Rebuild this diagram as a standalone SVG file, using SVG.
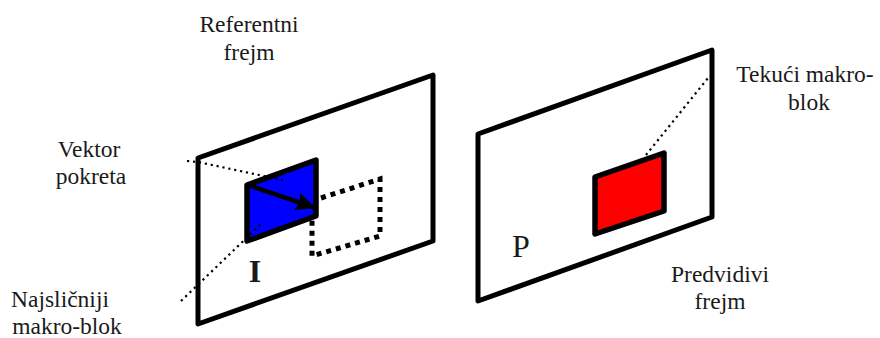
<svg xmlns="http://www.w3.org/2000/svg" width="880" height="338" viewBox="0 0 880 338">
<style>
text{font-family:"Liberation Serif","Times New Roman",serif;font-size:23.5px;fill:#1a1a1a;text-anchor:middle}
.f{fill:#fff;stroke:#000;stroke-width:5;stroke-linejoin:round}
.b{stroke:#000;stroke-width:5.5;stroke-linejoin:round}
.d{fill:none;stroke:#000;stroke-width:2.2;stroke-dasharray:2.2 3.8}
</style>
<defs><marker id="a" markerUnits="userSpaceOnUse" markerWidth="22" markerHeight="18" refX="20" refY="9" orient="auto"><path d="M0 0L20 9L0 18L3 9Z" fill="#000"/></marker></defs>
<rect width="880" height="338" fill="#fff"/>
<g id="ref-frame"><path class="f" d="M198 158L433 75V241L198 324Z"/></g>
<g id="pred-frame"><path class="f" d="M478 134L712 50V217L478 301Z"/></g>
<g id="best-block"><path class="b" fill="#0000ff" d="M247 185L316 160V216L247 241Z"/></g>
<g id="ghost-block"><path d="M321 198L380 179V236L312 256V218" fill="none" stroke="#000" stroke-width="5" stroke-dasharray="5 5"/></g>
<g id="current-block"><path class="b" fill="#ff0000" d="M595 177L664 153V211L595 234Z"/></g>
<g id="connectors">
<path class="d" d="M187 161L198 162L287 181"/>
<path class="d" d="M181 301L262 223"/>
<path class="d" d="M646 155L708 78"/>
<path d="M248 185L316 208" stroke="#000" stroke-width="4.5" fill="none" marker-end="url(#a)"/>
</g>
<g id="labels">
<text x="249" y="32">Referentni</text><text x="249" y="60">frejm</text>
<text x="89" y="157">Vektor</text><text x="91" y="184">pokreta</text>
<text x="60" y="307">Najsličniji</text><text x="67" y="334">makro-blok</text>
<text x="255" y="282" font-weight="bold" style="font-size:32px">I</text>
<text x="521" y="257" style="font-size:32px">P</text>
<text x="805" y="82">Tekući makro-</text><text x="809" y="110">blok</text>
<text x="720" y="282">Predvidivi</text><text x="720" y="309">frejm</text>
</g>
</svg>
